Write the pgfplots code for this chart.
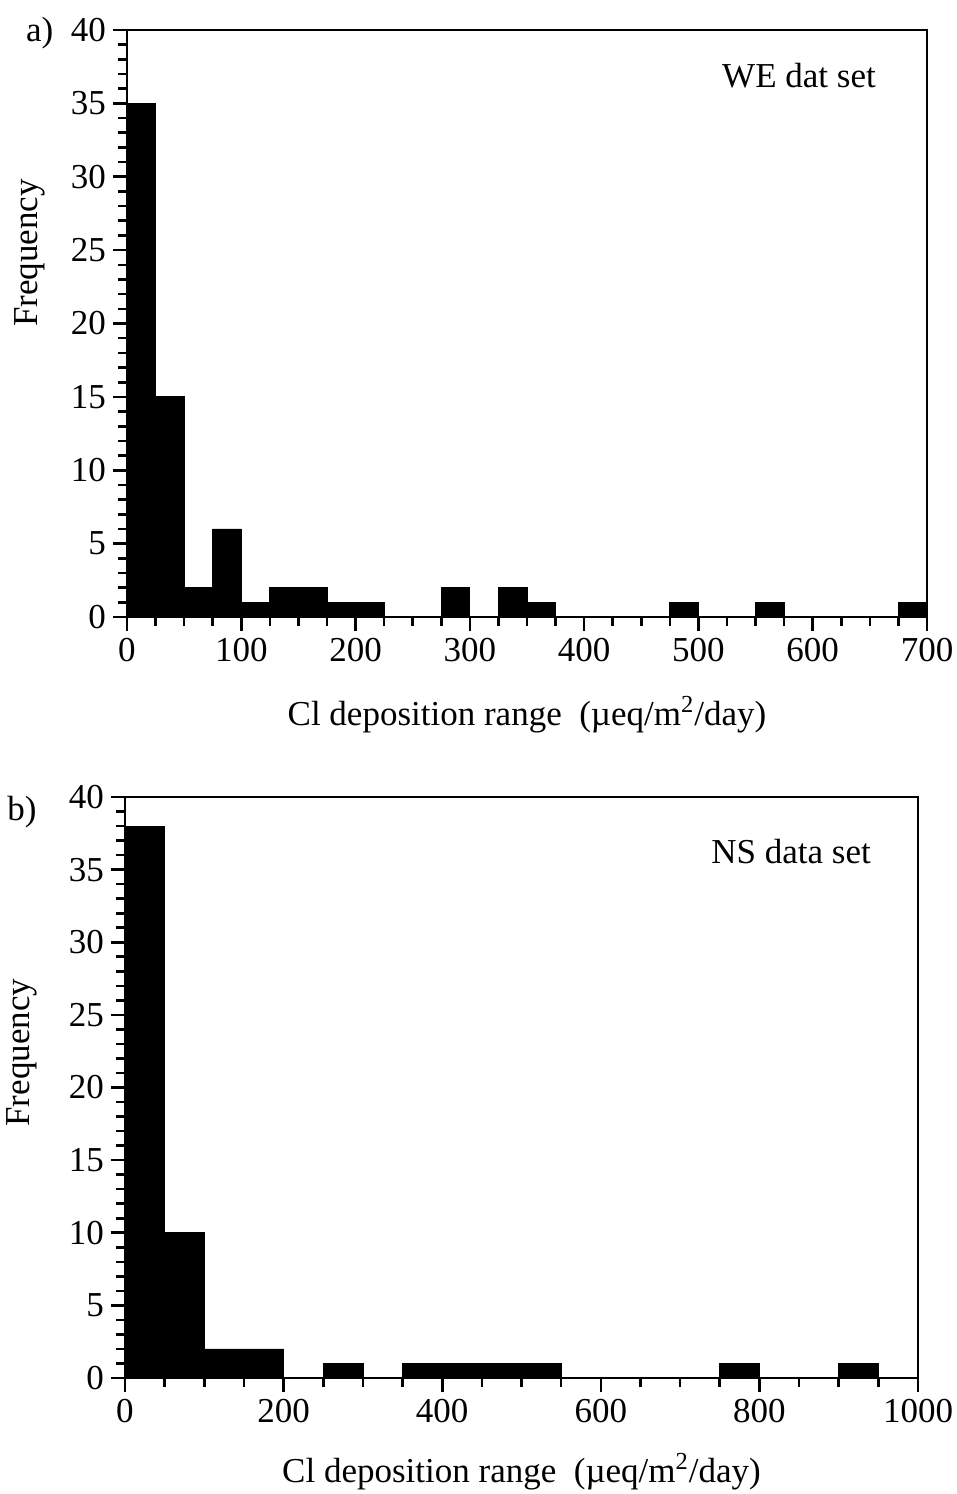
\documentclass[border=0pt]{standalone}
\usepackage{pgfplots}
\pgfplotsset{compat=1.18}
\usepackage{fontspec}
\setmainfont{Liberation Serif}
\begin{document}
\begin{tikzpicture}
\path[use as bounding box] (0,0) rectangle (478.5pt,-747pt);
\pgfplotsset{
  histo/.style={
    scale only axis,
    clip=false,
    anchor=south west,
    axis line style={line width=1.4pt},
    tick style={line width=1.3pt, black},
    major tick length=7pt,
    minor tick length=4.5pt,
    tick align=outside,
    xtick pos=bottom,
    ytick pos=left,
    ymin=0, ymax=40,
    ytick={0,5,...,40},
    minor y tick num=4,
    /pgf/number format/assume math mode=true,
    /pgf/number format/set thousands separator={},
    tick label style={font=\fontsize{17.5}{17.5}\selectfont},
    label style={font=\fontsize{17.5}{17.5}\selectfont},
    xlabel={Cl deposition range \ (µeq/m\textsuperscript{2}/day)},
    ylabel={Frequency},
  }
}
% ---- panel a ----
\begin{axis}[histo,
  at={(63.5pt,-308.5pt)},
  width=400pt, height=293.5pt,
  xmin=0, xmax=700,
  xtick={0,100,...,700},
  minor x tick num=3,
  xlabel style={at={(axis description cs:0.5,-0.184)}, anchor=base},
  ylabel style={at={(axis description cs:-0.121,0.62)}, anchor=center},
]
\addplot[fill=black, draw=black, const plot mark left] coordinates {
(0,35) (25,15) (50,2) (75,6) (100,1) (125,2) (150,2) (175,1) (200,1)
(225,0) (250,0) (275,2) (300,0) (325,2) (350,1) (375,0) (400,0) (425,0)
(450,0) (475,1) (500,0) (525,0) (550,1) (575,0) (600,0) (625,0) (650,0)
(675,1) (700,1)
} \closedcycle;
\node[font=\fontsize{17.5}{17.5}\selectfont] at (axis description cs:0.84,0.923) {WE dat set};
\node[font=\fontsize{17.5}{17.5}\selectfont] at (axis description cs:-0.109,0.995) {a)};
\end{axis}
% ---- panel b ----
\begin{axis}[histo,
  at={(62.5pt,-689pt)},
  width=396.5pt, height=290.5pt,
  xmin=0, xmax=1000,
  xtick={0,200,...,1000},
  minor x tick num=3,
  xlabel style={at={(axis description cs:0.5,-0.179)}, anchor=base},
  ylabel style={at={(axis description cs:-0.13,0.56)}, anchor=center},
]
\addplot[fill=black, draw=black, const plot mark left] coordinates {
(0,38) (50,10) (100,2) (150,2) (200,0) (250,1) (300,0) (350,1) (400,1)
(450,1) (500,1) (550,0) (600,0) (650,0) (700,0) (750,1) (800,0) (850,0)
(900,1) (950,0) (1000,0)
} \closedcycle;
\node[font=\fontsize{17.5}{17.5}\selectfont] at (axis description cs:0.84,0.906) {NS data set};
\node[font=\fontsize{17.5}{17.5}\selectfont] at (axis description cs:-0.13,0.974) {b)};
\end{axis}
\end{tikzpicture}
\end{document}
